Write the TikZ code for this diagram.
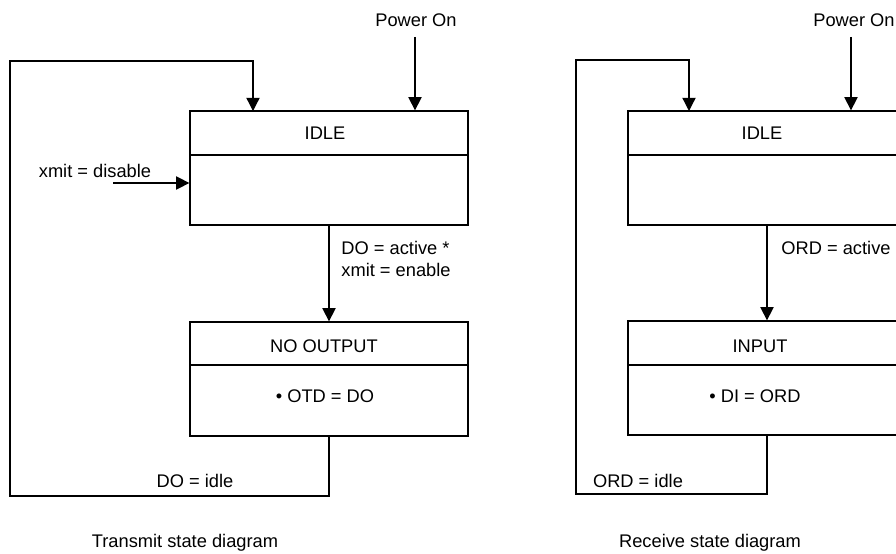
\documentclass[tikz,border=0pt]{standalone}
\usepackage{fontspec}
\setmainfont{Liberation Sans}
\usetikzlibrary{arrows.meta}
\tikzset{
  statebox/.style={draw,minimum width=5.56cm,minimum height=2.28cm,inner sep=0pt},
  txt/.style={inner sep=1pt,font=\fontsize{10.4}{12.5}\selectfont},
  arr/.style={-{Triangle[width=7.5pt,length=7.5pt]}},
}
\begin{document}
\begin{tikzpicture}[x=0.02cm,y=-0.02cm,line width=0.75pt]
\useasboundingbox (0,0) rectangle (896,554);

\node[statebox] (idleT) at (329,168) {};
\node[txt] (idleTt) at (325,133) {IDLE};
\coordinate (divT) at (0,155);
\draw (idleT.west |- divT) -- (idleT.east |- divT);

\node[statebox] (noOut) at (329,379) {};
\node[txt] (noOutT) at (324,346) {NO OUTPUT};
\node[txt] (otdT) at (325,396) {• OTD = DO};
\coordinate (divN) at (0,365);
\draw (noOut.west |- divN) -- (noOut.east |- divN);

\node[txt] (pwrT) at (416,20) {Power On};
\coordinate (pwrTs) at (415,37);
\draw[arr] (pwrTs) -- (pwrTs |- idleT.north);

\node[txt] (disT) at (95,171) {xmit = disable};
\coordinate (disA) at (113,183);
\draw[arr] (disA) -- (disA -| idleT.west);

\draw[arr] (idleT.south) -- (noOut.north);
\node[txt,anchor=west,align=left] (actT) at (339,259) {DO = active *\\xmit = enable};

\coordinate (loopTb) at (10,496);
\coordinate (loopTt) at (10,61);
\coordinate (inT) at (253,111);
\draw[arr] (noOut.south) |- (loopTb) -- (loopTt) -| (inT);
\node[txt] (idleTl) at (195,481) {DO = idle};
\node[txt] (capT) at (185,543) {Transmit state diagram};

\node[statebox] (idleR) at (767,168) {};
\node[txt] (idleRt) at (762,133) {IDLE};
\draw (idleR.west |- divT) -- (idleR.east |- divT);

\node[statebox] (inp) at (767,378) {};
\node[txt] (inpT) at (760,346) {INPUT};
\node[txt] (diT) at (755,396) {• DI = ORD};
\draw (inp.west |- divN) -- (inp.east |- divN);

\node[txt] (pwrR) at (854,20) {Power On};
\coordinate (pwrRs) at (851,37);
\draw[arr] (pwrRs) -- (pwrRs |- idleR.north);

\draw[arr] (idleR.south) -- (inp.north);
\node[txt,anchor=west] (ordA) at (779,248) {ORD = active};

\coordinate (loopRb) at (576,494);
\coordinate (loopRt) at (576,60);
\coordinate (inR) at (689,111);
\draw[arr] (inp.south) |- (loopRb) -- (loopRt) -| (inR);
\node[txt] (idleRl) at (638,481) {ORD = idle};
\node[txt] (capR) at (710,543) {Receive state diagram};
\end{tikzpicture}
\end{document}
